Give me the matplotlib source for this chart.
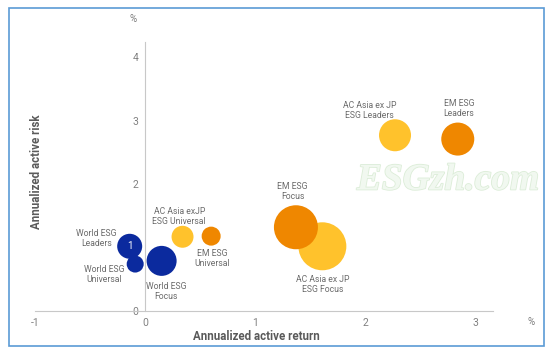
import matplotlib
matplotlib.use('Agg')
import matplotlib.pyplot as plt
import matplotlib.patheffects as pe
from matplotlib.patches import Rectangle

plt.rcParams['axes.unicode_minus'] = False

# data: annualized active return (x, %) / annualized active risk (y, %)
names = ['World ESG\nLeaders', 'World ESG\nUniversal', 'World ESG\nFocus',
         'AC Asia exJP\nESG Universal', 'EM ESG\nUniversal',
         'AC Asia ex JP\nESG Focus', 'EM ESG\nFocus',
         'AC Asia ex JP\nESG Leaders', 'EM ESG\nLeaders']
ret = [-0.14, -0.09, 0.15, 0.34, 0.60, 1.61, 1.37, 2.27, 2.84]
risk = [1.02, 0.74, 0.79, 1.17, 1.18, 1.02, 1.32, 2.77, 2.71]
sizes = [324, 150, 467, 250, 187, 1194, 1004, 531, 565]
groups = ['world', 'world', 'world', 'asia', 'em', 'asia', 'em', 'asia', 'em']
# label positions (data coords)
lab_x = [-0.44, -0.37, 0.19, 0.31, 0.61, 1.61, 1.34, 2.04, 2.85]
lab_y = [1.15, 0.57, 0.31, 1.49, 0.83, 0.42, 1.89, 3.16, 3.19]

colors = {'world': '#0B2A9E', 'asia': '#FFC22C', 'em': '#EF8700'}

fig = plt.figure(figsize=(5.5, 3.53), dpi=100)
ax = fig.add_axes([35/550, 42/353, 458/550, 269/353])
ax.set_xlim(-1, 3.16)
ax.set_ylim(0, 4.24)

for i in range(len(names)):
    ax.scatter(ret[i], risk[i], s=sizes[i], color=colors[groups[i]],
               edgecolors='none', zorder=3)
    ax.text(lab_x[i], lab_y[i], names[i], ha='center', va='center',
            fontsize=6.2, color='#6b6b6b', family='Roboto', linespacing=1.15,
            zorder=5)
ax.text(ret[0], risk[0], '1', ha='center', va='center', color='white',
        fontsize=7, family='Roboto', zorder=6)

for s in ['top', 'right']:
    ax.spines[s].set_visible(False)
ax.spines['left'].set_position(('data', 0))
ax.spines['bottom'].set_position(('data', 0))
ax.spines['left'].set_color('#c8c8c8')
ax.spines['bottom'].set_color('#c8c8c8')
ax.set_xticks([-1, 0, 1, 2, 3])
ax.set_yticks([0, 1, 2, 3, 4])
ax.tick_params(length=0, labelsize=7.5, labelcolor='#808080', pad=5)
for t in ax.get_xticklabels() + ax.get_yticklabels():
    t.set_family('Roboto')

fig.text(133/550, 1-19/353, '%', ha='center', va='center', fontsize=7,
         color='#7a7a7a', family='Roboto')
fig.text(531/550, 1-322/353, '%', ha='center', va='center', fontsize=7,
         color='#7a7a7a', family='Roboto')
fig.text(256/550, 1-337/353, 'Annualized active return', ha='center',
         va='center', fontsize=8.3, fontweight='bold', color='#5a5a5a',
         family='Roboto')
fig.text(37/550, 1-172/353, 'Annualized active risk', ha='center',
         va='center', rotation=90, fontsize=8.3, fontweight='bold',
         color='#5a5a5a', family='Roboto')

# watermark
wm = fig.text(448/550, 1-180/353, 'ESGzh.com', ha='center', va='center',
              fontsize=27, fontweight='bold', style='italic',
              family='Liberation Serif', color='#f1f8f0', zorder=1)
wm.set_path_effects([pe.withStroke(linewidth=1.2, foreground='#dcedd8')])

# outer frame
fig.patches.append(Rectangle((9/550, 1-346/353), 535/550, 338/353,
                             transform=fig.transFigure, fill=False,
                             edgecolor='#5b9bd5', linewidth=1.2))

fig.savefig('out.png', dpi=100)
